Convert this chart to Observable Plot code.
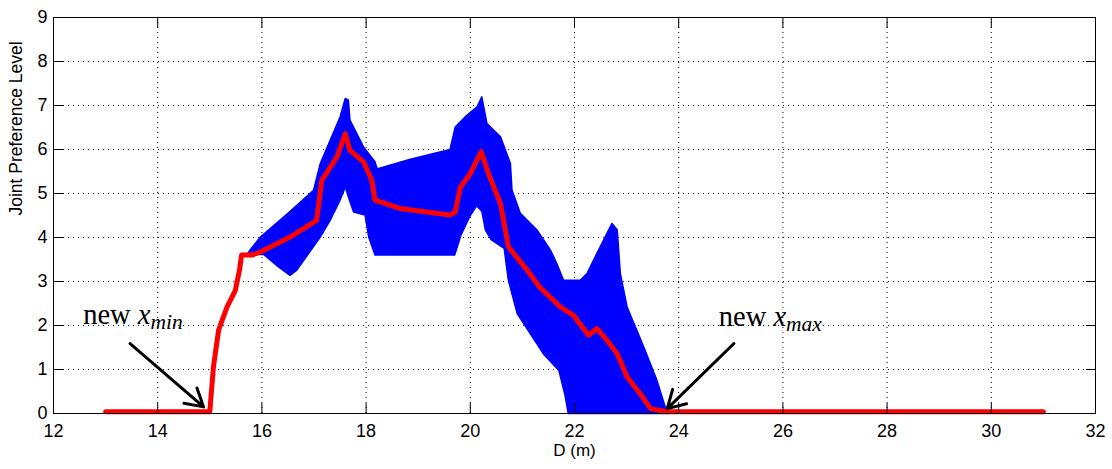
<!DOCTYPE html>
<html>
<head>
<meta charset="utf-8">
<script src="https://cdn.jsdelivr.net/npm/d3@7"></script>
<script src="https://cdn.jsdelivr.net/npm/@observablehq/plot@0.6"></script>
<style>
  html, body { margin: 0; padding: 0; background: #fff; }
</style>
</head>
<body>
<div id="chart"></div>
<script>
// ---- axis ticks ----
const xTicks = [12, 14, 16, 18, 20, 22, 24, 26, 28, 30, 32];
const yTicks = [0, 1, 2, 3, 4, 5, 6, 7, 8, 9];

// ---- blue family of curves: upper envelope (left to right) ----
const upperX = [15.72, 15.77, 15.97, 16.50, 16.99, 17.12, 17.31, 17.50, 17.60, 17.66, 17.69, 17.95, 18.17, 18.21,
                18.24, 18.85, 19.61, 19.71, 19.90, 20.13, 20.22, 20.32, 20.58, 20.77, 20.80, 20.96, 21.28, 21.54,
                21.66, 21.79, 22.11, 22.24, 22.43, 22.62, 22.72, 22.82, 22.88, 23.01, 23.33, 23.58, 23.78];
const upperY = [3.62, 3.71, 4.01, 4.55, 5.07, 5.68, 6.21, 6.74, 7.16, 7.12, 6.67, 6.06, 5.72, 5.57,
                5.57, 5.78, 6.00, 6.51, 6.74, 6.97, 7.20, 6.59, 6.29, 5.68, 5.08, 4.55, 4.17, 3.71,
                3.41, 3.03, 3.03, 3.18, 3.64, 4.09, 4.32, 4.17, 3.18, 2.42, 1.51, 0.76, 0.00];
// ---- lower envelope (left to right) ----
const lowerX = [15.72, 16.03, 16.30, 16.54, 16.67, 17.12, 17.31, 17.50, 17.60, 17.66, 17.76, 17.98, 18.05, 18.17,
                19.70, 19.82, 20.00, 20.12, 20.22, 20.29, 20.40, 20.65, 20.73, 20.90, 21.40, 21.70, 21.82, 21.88];
const lowerY = [3.60, 3.62, 3.35, 3.14, 3.26, 4.01, 4.39, 4.85, 5.15, 4.92, 4.58, 4.51, 4.01, 3.60,
                3.60, 4.05, 4.50, 4.72, 4.60, 4.17, 3.95, 3.75, 3.03, 2.27, 1.36, 0.98, 0.40, 0.00];

// ---- red curve ----
const redX = [13.00, 15.00, 15.07, 15.17, 15.33, 15.49, 15.57, 15.61, 15.81, 15.97, 16.54, 17.05, 17.15, 17.44,
              17.60, 17.69, 17.95, 18.11, 18.17, 18.65, 19.61, 19.71, 19.81, 20.00, 20.21, 20.35, 20.58, 20.73,
              21.09, 21.34, 21.73, 21.98, 22.27, 22.43, 22.62, 22.82, 23.01, 23.26, 23.46, 23.78, 31.00];
const redY = [0.04, 0.04, 1.06, 1.90, 2.42, 2.80, 3.26, 3.60, 3.60, 3.67, 4.01, 4.39, 5.30, 5.83,
              6.36, 5.98, 5.72, 5.30, 4.85, 4.66, 4.51, 4.58, 5.15, 5.45, 5.95, 5.45, 4.77, 3.79,
              3.26, 2.86, 2.42, 2.23, 1.78, 1.93, 1.67, 1.36, 0.83, 0.45, 0.11, 0.04, 0.04];

// ---- annotations ----
const annotWord = ["new", "new"];
const annotSym = ["x", "x"];
const annotSub = ["min", "max"];
const annotX = [12.57, 24.77];
const annotY = [2.03, 2.00];
const arrowX1 = [13.47, 25.06];
const arrowY1 = [1.59, 1.59];
const arrowX2 = [14.88, 23.78];
const arrowY2 = [0.15, 0.11];

// ---- build tables ----
const band = [
  ...upperX.map((x, i) => ({x, y: upperY[i]})),
  ...lowerX.map((x, i) => ({x, y: lowerY[i]})).reverse()
];
const red = redX.map((x, i) => ({x, y: redY[i]}));
const annots = annotX.map((x, i) => ({x, y: annotY[i], label: `${annotWord[i]} ${annotSym[i]}${annotSub[i]}`}));
const arrows = arrowX1.map((x1, i) => ({x1, y1: arrowY1[i], x2: arrowX2[i], y2: arrowY2[i]}));

const gridStyle = {stroke: "#000", strokeOpacity: 1, strokeWidth: 1, strokeDasharray: "1,4"};

const chart = Plot.plot({
  width: 1112,
  height: 469,
  marginLeft: 53,
  marginRight: 17,
  marginTop: 17,
  marginBottom: 56,
  x: {domain: [12, 32]},
  y: {domain: [0, 9]},
  style: {fontFamily: "'Liberation Sans', Arial, sans-serif", fontSize: "18px", color: "#000", background: "#fff"},
  marks: [
    Plot.gridX(xTicks.slice(1, -1), gridStyle),
    Plot.gridY(yTicks.slice(1, -1), gridStyle),
    Plot.line(band, {x: "x", y: "y", fill: "#0000ff", stroke: "#0000ff", strokeWidth: 1.5}),
    Plot.line(red, {x: "x", y: "y", stroke: "#ff0000", strokeWidth: 5}),
    Plot.frame({stroke: "#000", strokeWidth: 1}),
    Plot.axisX(xTicks, {anchor: "bottom", tickSize: -10, tickPadding: 21, label: null, stroke: "#000"}),
    Plot.axisX(xTicks, {anchor: "top", tickSize: -10, tickFormat: () => "", label: null, stroke: "#000"}),
    Plot.axisY(yTicks, {anchor: "left", tickSize: -10, tickPadding: 16, label: null, stroke: "#000"}),
    Plot.axisY(yTicks, {anchor: "right", tickSize: -10, tickFormat: () => "", label: null, stroke: "#000"}),
    Plot.text(["D (m)"], {frameAnchor: "bottom", dy: 42, text: d => d, fontSize: 17, fill: "#000"}),
    Plot.text(["Joint Preference Level"], {frameAnchor: "left", dx: -37, rotate: -90, text: d => d, fontSize: 17.5, fill: "#000"}),
    Plot.arrow(arrows, {x1: "x1", y1: "y1", x2: "x2", y2: "y2", stroke: "#000", strokeWidth: 3, headLength: 10, headAngle: 60}),
    Plot.text(annots, {x: "x", y: "y", text: "label", textAnchor: "start", lineAnchor: "bottom",
      fontFamily: "'Liberation Serif', 'Times New Roman', serif", fontSize: 28.5, fill: "#000"})
  ]
});

document.getElementById("chart").appendChild(chart);

// typeset the subscripted annotation labels
d3.select(chart).selectAll("text").each(function() {
  const k = annots.findIndex(a => a.label === this.textContent);
  if (k < 0) return;
  const t = d3.select(this);
  t.text(null);
  t.append("tspan").text(annotWord[k] + " ");
  t.append("tspan").attr("font-style", "italic").text(annotSym[k]);
  t.append("tspan").attr("font-style", "italic").attr("font-size", 21.5).attr("dy", 5).text(annotSub[k]);
});
</script>
</body>
</html>
